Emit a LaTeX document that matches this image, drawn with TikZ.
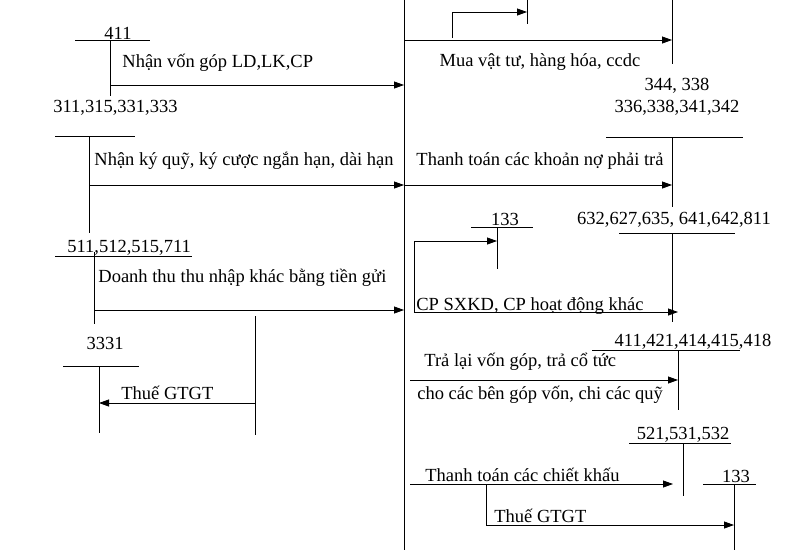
\documentclass[tikz,border=0pt]{standalone}
\usepackage{fontspec}
\setmainfont{Liberation Serif}
\usetikzlibrary{arrows.meta}
\begin{document}
\begin{tikzpicture}[x=1pt,y=-1pt,line width=0.8pt,
  lbl/.style={inner sep=0pt,font=\fontsize{18.5}{20}\selectfont},
  lbll/.style={lbl,anchor=west},
  arr/.style={-{Triangle[length=10pt,width=7pt]}}]
\useasboundingbox (0,0) rectangle (792,550);
% main account line
\coordinate (mt) at (404,0); \coordinate (mb) at (404,550);
\draw (mt) -- (mb);
% ---- right side ----
\draw (672,0) -- (672,64);
\draw (527,0) -- (527,24);
\coordinate (s1) at (452,38); \coordinate (s1e) at (527,12);
\draw[arr] (s1) |- (s1e);
\coordinate (a1s) at (404,40); \coordinate (a1e) at (672,40);
\draw[arr] (a1s) -- (a1e);
\node[lbl] (t1) at (540,62) {Mua vật tư, hàng hóa, ccdc};
\node[lbl] (n344) at (677,86) {344, 338};
\node[lbl] (n336) at (677,108) {336,338,341,342};
\draw (606,137) -- (743,137); \draw (672,137) -- (672,207);
\coordinate (a2s) at (404,185); \coordinate (a2e) at (672,185);
\draw[arr] (a2s) -- (a2e);
\node[lbl] (t2) at (540,161) {Thanh toán các khoản nợ phải trả};
\node[lbl] (n133a) at (505,219) {133};
\draw (471,227) -- (533,227); \draw (497,227) -- (497,269);
\coordinate (s2) at (414,312); \coordinate (s2e) at (497,241);
\draw[arr] (s2) |- (s2e);
\node[lbl] (n632) at (674,220) {632,627,635, 641,642,811};
\draw (619,233) -- (735,233); \draw (672,233) -- (672,322);
\coordinate (a3s) at (414,312); \coordinate (a3e) at (678,312);
\draw[arr] (a3s) -- (a3e);
\node[lbll] (t3) at (416,306) {CP SXKD, CP hoạt động khác};
\node[lbl] (n411b) at (693,342) {411,421,414,415,418};
\draw (592,350) -- (740,350); \draw (678,350) -- (678,410);
\coordinate (a4s) at (410,380); \coordinate (a4e) at (678,380);
\draw[arr] (a4s) -- (a4e);
\node[lbll] (t4) at (424,362) {Trả lại vốn góp, trả cổ tức};
\node[lbll] (t5) at (417,395) {cho các bên góp vốn, chi các quỹ};
\node[lbl] (n521) at (683,435) {521,531,532};
\draw (629,443) -- (731,443); \draw (683,443) -- (683,496);
\coordinate (a5s) at (410,484); \coordinate (a5e) at (673,484);
\draw[arr] (a5s) -- (a5e);
\node[lbll] (t6) at (425,475) {Thanh toán các chiết khấu};
\node[lbl] (n133b) at (736,476) {133};
\draw (703,484) -- (756,484); \draw (734,484) -- (734,550);
\coordinate (s3) at (486,484); \coordinate (s3e) at (734,525);
\draw[arr] (s3) |- (s3e);
\node[lbll] (t7) at (494,516) {Thuế GTGT};
% ---- left side ----
\node[lbl] (n411) at (118,33) {411};
\draw (75,40) -- (150,40); \draw (110,40) -- (110,96);
\coordinate (b1s) at (110,85); \coordinate (b1e) at (404,85);
\draw[arr] (b1s) -- (b1e);
\node[lbll] (u1) at (122,63) {Nhận vốn góp LD,LK,CP};
\node[lbll] (n311) at (53,108) {311,315,331,333};
\draw (55,136) -- (135,136); \draw (89,136) -- (89,233);
\coordinate (b2s) at (89,185); \coordinate (b2e) at (404,185);
\draw[arr] (b2s) -- (b2e);
\node[lbll] (u2) at (94,161) {Nhận ký quỹ, ký cược ngắn hạn, dài hạn};
\node[lbll] (n511) at (67,248) {511,512,515,711};
\draw (55,256) -- (192,256); \draw (94,252) -- (94,324);
\coordinate (b3s) at (94,310); \coordinate (b3e) at (404,310);
\draw[arr] (b3s) -- (b3e);
\node[lbll] (u3) at (98,278) {Doanh thu thu nhập khác bằng tiền gửi};
\node[lbl] (n3331) at (105,343) {3331};
\draw (63,366) -- (139,366); \draw (99,366) -- (99,433);
\draw (255,316) -- (255,435);
\coordinate (b4s) at (255,403); \coordinate (b4e) at (99,403);
\draw[arr] (b4s) -- (b4e);
\node[lbll] (u4) at (121,393) {Thuế GTGT};
\end{tikzpicture}
\end{document}
